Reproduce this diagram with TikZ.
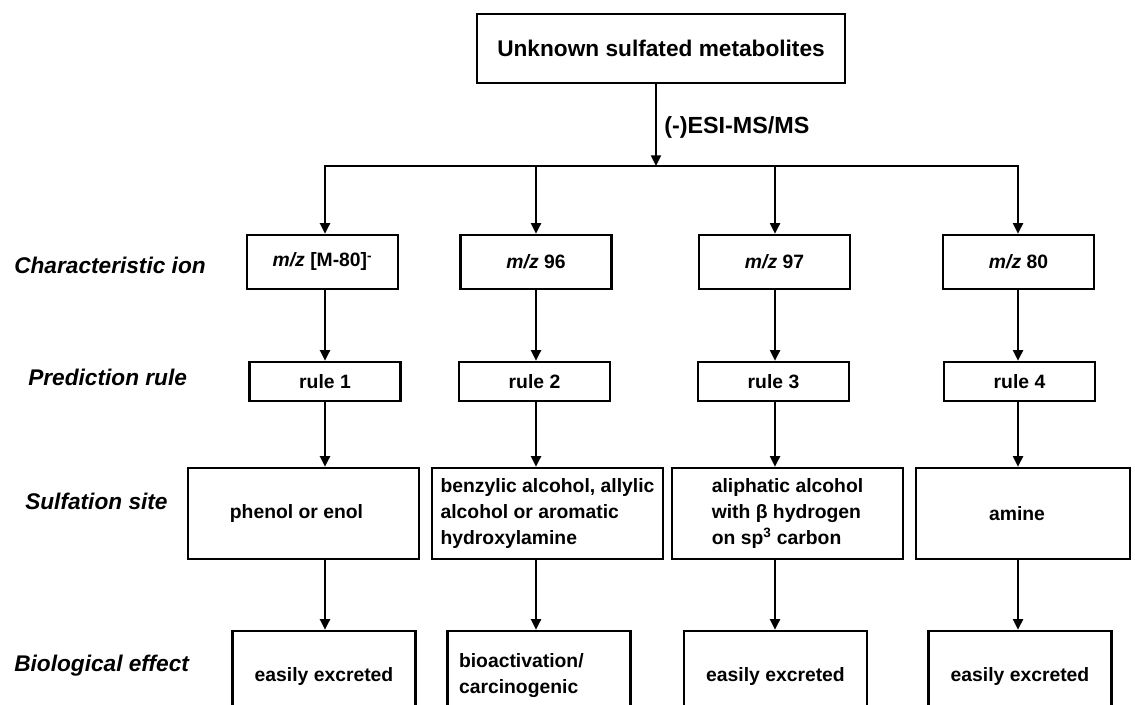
\documentclass[tikz,border=0pt]{standalone}
\usepackage{fontspec}
\setmainfont{Liberation Sans}
\usetikzlibrary{arrows.meta}
\begin{document}
\begin{tikzpicture}[x=0.75pt,y=-0.75pt,
  box/.style={draw,line width=1.8pt,inner sep=0pt,align=center,
    font=\fontsize{14.5}{19.5}\selectfont\bfseries},
  topbox/.style={box,minimum width=276pt,minimum height=51.75pt,
    font=\fontsize{17}{20}\selectfont\bfseries},
  ionbox/.style={box,minimum width=113.25pt,minimum height=40.5pt},
  rulebox/.style={box,minimum width=113.25pt,minimum height=29.25pt},
  sitebox/.style={box,minimum width=173.25pt,minimum height=68.25pt,align=left},
  effbox/.style={box,minimum width=137.25pt,minimum height=67.5pt,align=left},
  rowlab/.style={anchor=base west,inner sep=0pt,
    font=\fontsize{17}{20}\selectfont\bfseries\itshape},
  conn/.style={line width=1.6pt},
  arr/.style={conn,-{Triangle[length=8pt,width=7.5pt]}},
  arr2/.style={conn,{Triangle[length=8pt,width=7.5pt]}-{Triangle[length=8pt,width=7.5pt]}}
]
\useasboundingbox (0,0) rectangle (1135,705);
\clip (0,0) rectangle (1135,705);

% top
\node[topbox] (top) at (661,48.5) {Unknown sulfated metabolites};
\coordinate (busc) at (656,166);
\node[anchor=west,inner sep=0pt,font=\fontsize{17.5}{20}\selectfont\bfseries] (esi) at (664,127) {(-)ESI-MS/MS};

% column coordinates on the bus
\coordinate (k1) at (325,166);
\coordinate (k2) at (536,166);
\coordinate (k3) at (775,166);
\coordinate (k4) at (1018,166);

% row labels
\node[rowlab] (lab1) at (14,274) {Characteristic ion};
\node[rowlab] (lab2) at (28,386) {Prediction rule};
\node[rowlab] (lab3) at (25,510) {Sulfation site};
\node[rowlab] (lab4) at (14,671) {Biological effect};

% row 1
\node[ionbox] (m1) at (322.5,262) {{\itshape m/z} [M-80]\textsuperscript{-}};
\node[ionbox] (m2) at (536,262) {{\itshape m/z} 96};
\node[ionbox] (m3) at (774.5,262) {{\itshape m/z} 97};
\node[ionbox] (m4) at (1018.5,262) {{\itshape m/z} 80};

% row 2
\node[rulebox] (r1) at (325,381.5) {rule 1};
\node[rulebox] (r2) at (534.5,381.5) {rule 2};
\node[rulebox] (r3) at (773.5,381.5) {rule 3};
\node[rulebox] (r4) at (1019.5,381.5) {rule 4};

% row 3
\node[sitebox] (s1) at (303.5,513.5) {\hspace*{-10.5pt}phenol or enol};
\node[sitebox] (s2) at (547.5,513.5) {benzylic alcohol, allylic\\alcohol or aromatic\\hydroxylamine};
\node[sitebox] (s3) at (787.5,513.5) {aliphatic alcohol\\with β hydrogen\\on sp\textsuperscript{3} carbon};
\node[sitebox,minimum width=160.5pt] (s4) at (1023,513.5) {\hspace*{-9pt}amine};

% row 4 (boxes run off the bottom edge)
\node[effbox] (e1) at (324,676) {easily excreted};
\node[effbox,text width=120pt] (e2) at (539,676) {bioactivation/\\carcinogenic};
\node[effbox] (e3) at (775.5,676) {easily excreted};
\node[effbox] (e4) at (1020,676) {easily excreted};

% connectors
\draw[arr] (top.south -| busc) -- (busc);
\draw[arr2] (m1.north -| k1) -- (k1) -- (k4) -- (m4.north -| k4);
\draw[arr] (k2) -- (m2.north -| k2);
\draw[arr] (k3) -- (m3.north -| k3);

\draw[arr] (m1.south -| k1) -- (r1.north -| k1);
\draw[arr] (m2.south -| k2) -- (r2.north -| k2);
\draw[arr] (m3.south -| k3) -- (r3.north -| k3);
\draw[arr] (m4.south -| k4) -- (r4.north -| k4);

\draw[arr] (r1.south -| k1) -- (s1.north -| k1);
\draw[arr] (r2.south -| k2) -- (s2.north -| k2);
\draw[arr] (r3.south -| k3) -- (s3.north -| k3);
\draw[arr] (r4.south -| k4) -- (s4.north -| k4);

\draw[arr] (s1.south -| k1) -- (e1.north -| k1);
\draw[arr] (s2.south -| k2) -- (e2.north -| k2);
\draw[arr] (s3.south -| k3) -- (e3.north -| k3);
\draw[arr] (s4.south -| k4) -- (e4.north -| k4);
\end{tikzpicture}
\end{document}
